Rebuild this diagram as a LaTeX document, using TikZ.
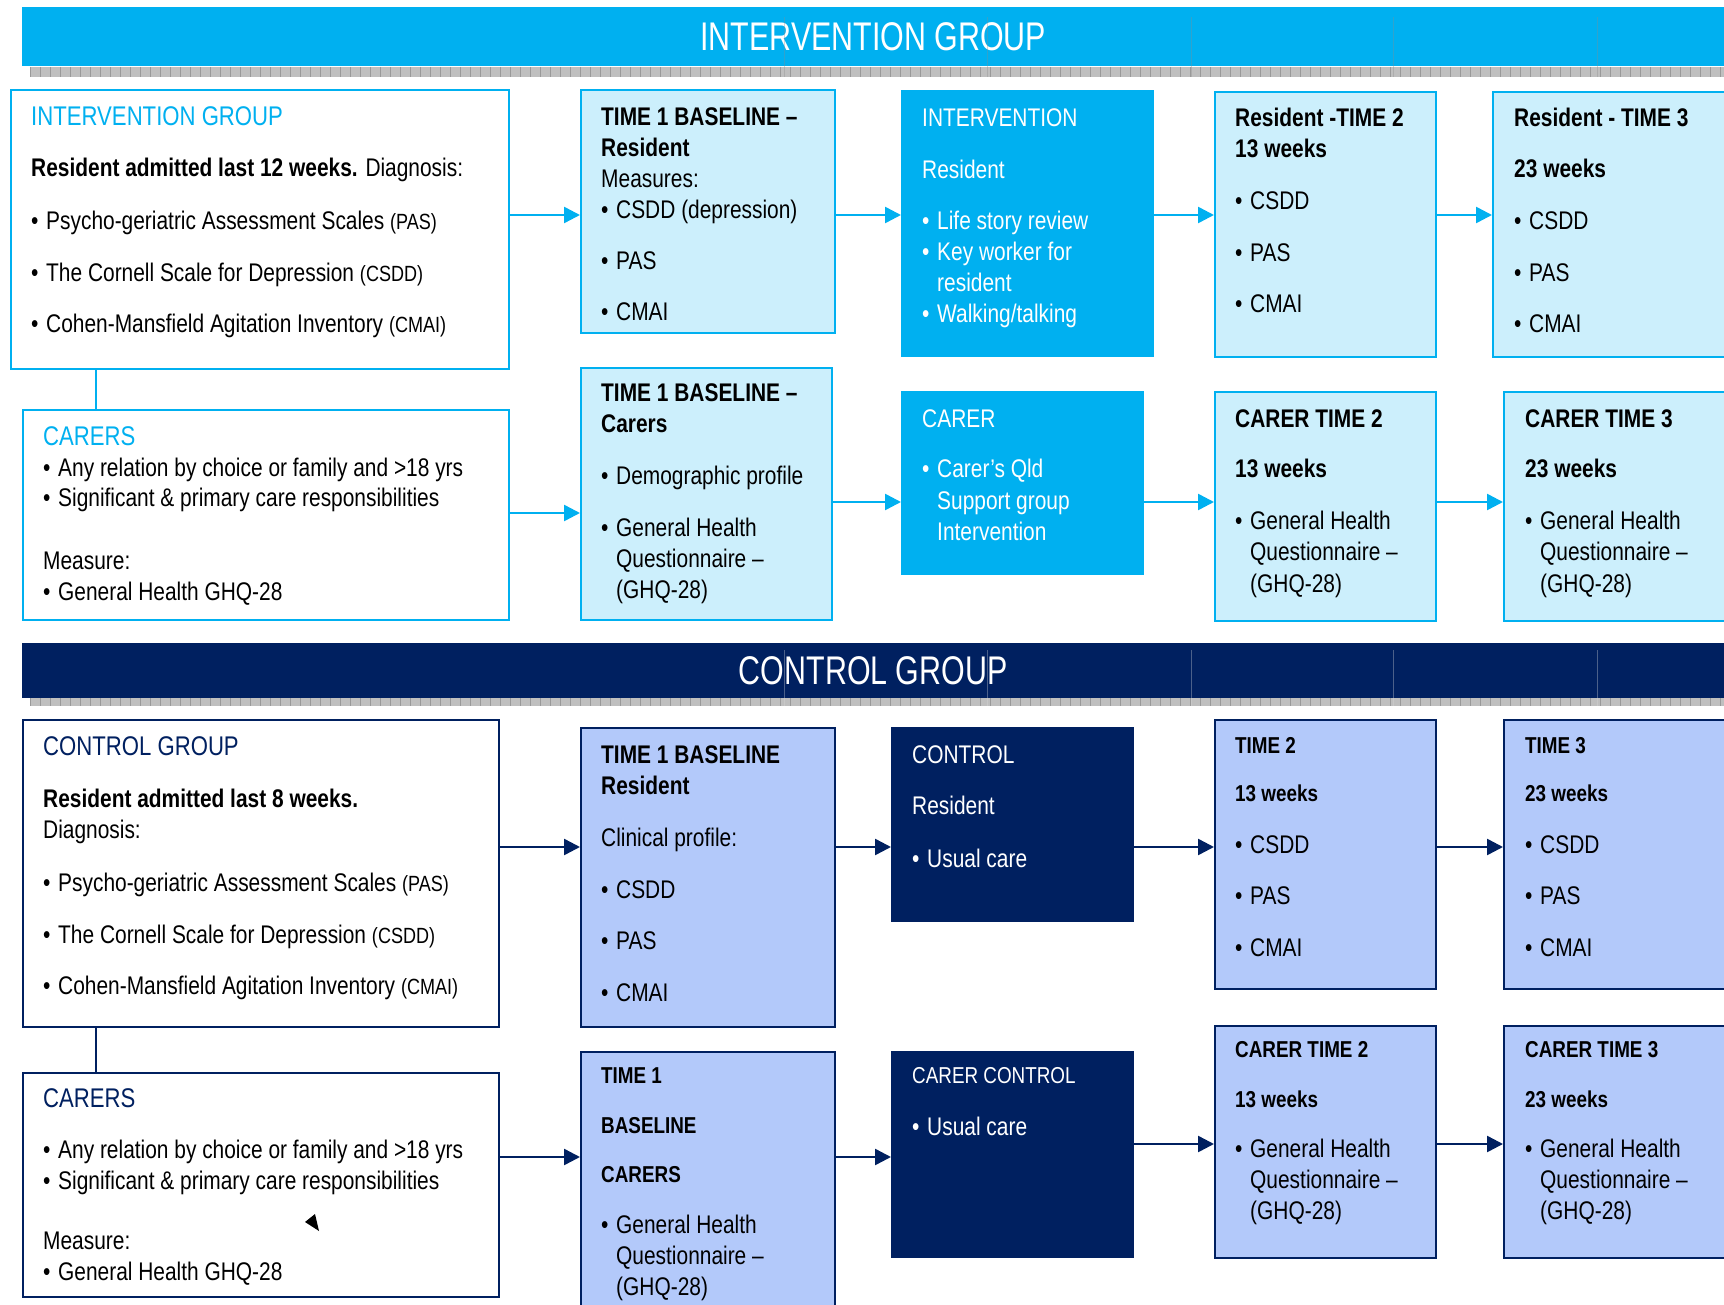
\documentclass[tikz,border=0pt]{standalone}
\usepackage{fontspec}
\setmainfont{Liberation Sans}[FakeStretch=0.82]
\newfontfamily\bannerfont{Liberation Sans}[FakeStretch=0.76]
\usetikzlibrary{arrows.meta}

\definecolor{cyanM}{HTML}{00B0F0}
\definecolor{cyanL}{HTML}{CCEFFC}
\definecolor{navyM}{HTML}{002060}
\definecolor{blueL}{HTML}{B3C9FA}

\newcommand{\bitem}{\makebox[15pt][l]{\textbullet}}
\newcommand{\bind}{\hspace*{15pt}}
\newcommand{\abbr}[1]{{\fontsize{22}{31}\selectfont #1}}
\newcommand{\blk}[1]{\parbox[t]{500pt}{\leavevmode #1}}
\newcommand{\hsm}{\fontsize{23}{31}\selectfont}
\newcommand{\hdI}{\fontsize{27}{31}\selectfont\color{cyanM}}
\newcommand{\hdC}{\fontsize{27}{31}\selectfont\color{navyM}}

\begin{document}
\begin{tikzpicture}[x=1pt, y=-1pt,
  sz/.style 2 args={minimum width=#1, minimum height=#2},
  banner/.style={anchor=north west, inner sep=0pt, text=white, font=\bannerfont\fontsize{40}{42}\selectfont},
  plainI/.style={draw=cyanM, line width=2pt, fill=white, anchor=north west, inner sep=0pt},
  boxI/.style={draw=cyanM, line width=2pt, fill=cyanL, anchor=north west, inner sep=0pt},
  darkI/.style={draw=cyanM, line width=1pt, fill=cyanM, anchor=north west, inner sep=0pt},
  plainC/.style={draw=navyM, line width=2pt, fill=white, anchor=north west, inner sep=0pt},
  boxC/.style={draw=navyM, line width=2pt, fill=blueL, anchor=north west, inner sep=0pt},
  darkC/.style={draw=navyM, line width=1pt, fill=navyM, anchor=north west, inner sep=0pt},
  txt/.style={anchor=base west, inner sep=0pt, font=\fontsize{25.5}{31}\selectfont},
  flowI/.style={draw=cyanM, line width=2.5pt, ->, >={Triangle[length=16pt,width=16pt]}},
  flowC/.style={draw=navyM, line width=2.5pt, ->, >={Triangle[length=16pt,width=16pt]}},
  linkI/.style={draw=cyanM, line width=2pt},
  linkC/.style={draw=navyM, line width=2pt},
  hatch/.style={fill=black!25},
  hatchline/.style={draw=black!40, line width=0.8pt},
  guide/.style={draw=black!45, line width=0.6pt, opacity=0.35}]

\useasboundingbox (0,0) rectangle (1724,1305);
\clip (0,0) rectangle (1724,1305);

% ---------------- intervention group ----------------
\node[banner, fill=cyanM, sz={1702}{59}] (banI) at (22,7) {INTERVENTION GROUP};
\fill[hatch] (30,67) rectangle (1724,77);
\foreach \x in {30,40,...,1720}
  \draw[hatchline] (\x,67) -- (\x,77);
\foreach \x in {784,987,1191,1393,1597}
  \draw[guide] (\x,17) -- (\x,77);

\node[plainI, sz={498}{279}] (grpI) at (10,89) {};
\node[txt] (grpI-t) at (31,126) {\blk{{\hdI INTERVENTION GROUP}\\[20pt]
  \textbf{Resident admitted last 12 weeks.} Diagnosis:\\[22pt]
  \bitem Psycho-geriatric Assessment Scales \abbr{(PAS)}\\[21pt]
  \bitem The Cornell Scale for Depression \abbr{(CSDD)}\\[20pt]
  \bitem Cohen-Mansfield Agitation Inventory \abbr{(CMAI)}}};

\node[plainI, sz={486}{210}] (carI) at (22,409) {};
\node[txt] (carI-t) at (43,445) {\blk{{\hdI CARERS}\\
  \bitem Any relation by choice or family and >18 yrs\\
  \bitem Significant \& primary care responsibilities\\[31pt]
  Measure:\\
  \bitem General Health GHQ-28}};

\node[boxI, sz={254}{243}] (t1I) at (580,89) {};
\node[txt] (t1I-t) at (601,126) {\blk{\textbf{TIME 1 BASELINE –}\\
  \textbf{Resident}\\
  Measures:\\
  \bitem CSDD (depression)\\[20pt]
  \bitem PAS\\[20pt]
  \bitem CMAI}};

\node[darkI, sz={252}{266}] (intI) at (901,90) {};
\node[txt, text=white] (intI-t) at (922,127) {\blk{INTERVENTION\\[21pt]
  Resident\\[20pt]
  \bitem Life story review\\
  \bitem Key worker for\\
  \bind resident\\
  \bitem Walking/talking}};

\node[boxI, sz={221}{265}] (t2I) at (1214,91) {};
\node[txt] (t2I-t) at (1235,127) {\blk{\textbf{Resident -TIME 2}\\
  \textbf{13 weeks}\\[21pt]
  \bitem CSDD\\[21pt]
  \bitem PAS\\[20pt]
  \bitem CMAI}};

\node[boxI, sz={240}{265}] (t3I) at (1492,91) {};
\node[txt] (t3I-t) at (1514,127) {\blk{\textbf{Resident - TIME 3}\\[20pt]
  \textbf{23 weeks}\\[21pt]
  \bitem CSDD\\[21pt]
  \bitem PAS\\[20pt]
  \bitem CMAI}};

\node[boxI, sz={251}{252}] (t1cI) at (580,367) {};
\node[txt] (t1cI-t) at (601,402) {\blk{\textbf{TIME 1 BASELINE –}\\
  \textbf{Carers}\\[21pt]
  \bitem Demographic profile\\[21pt]
  \bitem General Health\\
  \bind Questionnaire –\\
  \bind (GHQ-28)}};

\node[darkI, sz={242}{183}] (carerI) at (901,391) {};
\node[txt, text=white] (carerI-t) at (922,427) {\blk{CARER\\[20pt]
  \bitem Carer's Qld\\
  \bind Support group\\
  \bind Intervention}};

\node[boxI, sz={221}{229}] (ct2I) at (1214,391) {};
\node[txt] (ct2I-t) at (1235,427) {\blk{\textbf{CARER TIME 2}\\[20pt]
  \textbf{13 weeks}\\[21pt]
  \bitem General Health\\
  \bind Questionnaire –\\
  \bind (GHQ-28)}};

\node[boxI, sz={230}{229}] (ct3I) at (1503,391) {};
\node[txt] (ct3I-t) at (1525,427) {\blk{\textbf{CARER TIME 3}\\[20pt]
  \textbf{23 weeks}\\[21pt]
  \bitem General Health\\
  \bind Questionnaire –\\
  \bind (GHQ-28)}};

\coordinate (yA) at (0,215);
\coordinate (yC) at (0,513);
\coordinate (yD) at (0,502);
\coordinate (xV) at (96,0);
\draw[flowI] (grpI.east |- yA) -- (t1I.west |- yA);
\draw[flowI] (t1I.east |- yA) -- (intI.west |- yA);
\draw[flowI] (intI.east |- yA) -- (t2I.west |- yA);
\draw[flowI] (t2I.east |- yA) -- (t3I.west |- yA);
\draw[linkI] (grpI.south -| xV) -- (carI.north -| xV);
\draw[flowI] (carI.east |- yC) -- (t1cI.west |- yC);
\draw[flowI] (t1cI.east |- yD) -- (carerI.west |- yD);
\draw[flowI] (carerI.east |- yD) -- (ct2I.west |- yD);
\draw[flowI] (ct2I.east |- yD) -- (ct3I.west |- yD);

% ---------------- control group ----------------
\node[banner, fill=navyM, sz={1702}{55}] (banC) at (22,643) {CONTROL GROUP};
\fill[hatch] (30,698) rectangle (1724,706);
\foreach \x in {30,40,...,1720}
  \draw[hatchline] (\x,698) -- (\x,706);
\foreach \x in {784,987,1191,1393,1597}
  \draw[guide, draw=white!70!gray] (\x,650) -- (\x,706);

\node[plainC, sz={476}{307}] (grpC) at (22,719) {};
\node[txt] (grpC-t) at (43,755) {\blk{{\hdC CONTROL GROUP}\\[21pt]
  \textbf{Resident admitted last 8 weeks.}\\
  Diagnosis:\\[22pt]
  \bitem Psycho-geriatric Assessment Scales \abbr{(PAS)}\\[21pt]
  \bitem The Cornell Scale for Depression \abbr{(CSDD)}\\[20pt]
  \bitem Cohen-Mansfield Agitation Inventory \abbr{(CMAI)}}};

\node[plainC, sz={476}{224}] (carC) at (22,1072) {};
\node[txt] (carC-t) at (43,1107) {\blk{{\hdC CARERS}\\[20pt]
  \bitem Any relation by choice or family and >18 yrs\\
  \bitem Significant \& primary care responsibilities\\[29pt]
  Measure:\\
  \bitem General Health GHQ-28}};

\node[boxC, sz={254}{299}] (t1C) at (580,727) {};
\node[txt] (t1C-t) at (601,763) {\blk{\textbf{TIME 1 BASELINE}\\
  \textbf{Resident}\\[21pt]
  Clinical profile:\\[21pt]
  \bitem CSDD\\[20pt]
  \bitem PAS\\[21pt]
  \bitem CMAI}};

\node[darkC, sz={242}{194}] (ctrlC) at (891,727) {};
\node[txt, text=white] (ctrlC-t) at (912,763) {\blk{CONTROL\\[20pt]
  Resident\\[22pt]
  \bitem Usual care}};

\node[boxC, sz={221}{269}] (t2C) at (1214,719) {};
\node[txt] (t2C-t) at (1235,753) {\blk{{\hsm\textbf{TIME 2}}\\[17pt]
  {\hsm\textbf{13 weeks}}\\[21pt]
  \bitem CSDD\\[20pt]
  \bitem PAS\\[21pt]
  \bitem CMAI}};

\node[boxC, sz={230}{269}] (t3C) at (1503,719) {};
\node[txt] (t3C-t) at (1525,753) {\blk{{\hsm\textbf{TIME 3}}\\[17pt]
  {\hsm\textbf{23 weeks}}\\[21pt]
  \bitem CSDD\\[20pt]
  \bitem PAS\\[21pt]
  \bitem CMAI}};

\node[boxC, sz={254}{290}] (t1cC) at (580,1051) {};
\node[txt] (t1cC-t) at (601,1083) {\blk{{\hsm\textbf{TIME 1}}\\[19pt]
  {\hsm\textbf{BASELINE}}\\[18pt]
  {\hsm\textbf{CARERS}}\\[20pt]
  \bitem General Health\\
  \bind Questionnaire –\\
  \bind (GHQ-28)}};

\node[darkC, sz={242}{206}] (carerC) at (891,1051) {};
\node[txt, text=white] (carerC-t) at (912,1083) {\blk{{\hsm CARER CONTROL}\\[21pt]
  \bitem Usual care}};

\node[boxC, sz={221}{232}] (ct2C) at (1214,1025) {};
\node[txt] (ct2C-t) at (1235,1057) {\blk{{\hsm\textbf{CARER TIME 2}}\\[19pt]
  {\hsm\textbf{13 weeks}}\\[19pt]
  \bitem General Health\\
  \bind Questionnaire –\\
  \bind (GHQ-28)}};

\node[boxC, sz={230}{232}] (ct3C) at (1503,1025) {};
\node[txt] (ct3C-t) at (1525,1057) {\blk{{\hsm\textbf{CARER TIME 3}}\\[19pt]
  {\hsm\textbf{23 weeks}}\\[19pt]
  \bitem General Health\\
  \bind Questionnaire –\\
  \bind (GHQ-28)}};

\coordinate (yE) at (0,847);
\coordinate (yF) at (0,1157);
\coordinate (yG) at (0,1144);
\draw[flowC] (grpC.east |- yE) -- (t1C.west |- yE);
\draw[flowC] (t1C.east |- yE) -- (ctrlC.west |- yE);
\draw[flowC] (ctrlC.east |- yE) -- (t2C.west |- yE);
\draw[flowC] (t2C.east |- yE) -- (t3C.west |- yE);
\draw[linkC] (grpC.south -| xV) -- (carC.north -| xV);
\draw[flowC] (carC.east |- yF) -- (t1cC.west |- yF);
\draw[flowC] (t1cC.east |- yF) -- (carerC.west |- yF);
\draw[flowC] (carerC.east |- yG) -- (ct2C.west |- yG);
\draw[flowC] (ct2C.east |- yG) -- (ct3C.west |- yG);

% stray arrow head
\fill (305,1222) -- (315,1214) -- (319,1231) -- cycle;
\end{tikzpicture}
\end{document}
